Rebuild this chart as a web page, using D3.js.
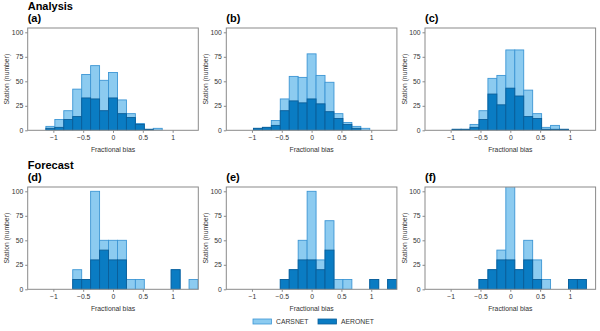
<!DOCTYPE html>
<html>
<head>
<meta charset="utf-8">
<script src="https://cdn.jsdelivr.net/npm/d3@7"></script>
<style>
  body { margin: 0; background: #fff; }
  svg { font-family: "Liberation Sans", Arial, sans-serif; }
</style>
</head>
<body>
<svg id="chart" width="600" height="331"></svg>
<script>
// bin centres (fractional bias), bin width 0.15
var binCenters = [-1.05, -0.9, -0.75, -0.6, -0.45, -0.3, -0.15, 0, 0.15, 0.3, 0.45, 0.6, 0.75, 0.9, 1.05, 1.2, 1.35];
var binWidth = 0.15;

var panelLabels = ["(a)", "(b)", "(c)", "(d)", "(e)", "(f)"];
var rowTitles = ["Analysis", "Forecast"];
var xTicks = [-1, -0.5, 0, 0.5, 1];
var yTicks = [0, 25, 50, 75, 100];
var seriesNames = ["CARSNET", "AERONET"];

var carsnetA = [4, 11, 20, 42, 57, 66, 51, 59, 31, 17, 7, 1, 2, 0, 0, 0, 0];
var aeronetA = [2, 3, 11, 14, 33, 32, 20, 33, 17, 13, 6, 1, 0, 0, 0, 0, 0];
var carsnetB = [0, 2, 3, 10, 32, 55, 54, 78, 56, 49, 17, 8, 4, 2, 0, 0, 0];
var aeronetB = [0, 2, 3, 5, 20, 30, 28, 32, 27, 19, 12, 6, 2, 0, 0, 0, 0];
var carsnetC = [0, 1, 1, 6, 20, 53, 56, 82, 82, 41, 17, 3, 5, 1, 0, 0, 0];
var aeronetC = [0, 1, 1, 3, 11, 37, 26, 43, 35, 14, 12, 1, 1, 1, 0, 0, 0];
var carsnetD = [0, 0, 0, 20, 10, 100, 50, 50, 50, 10, 10, 0, 0, 0, 20, 0, 10];
var aeronetD = [0, 0, 0, 10, 10, 30, 40, 30, 30, 0, 0, 0, 0, 0, 20, 0, 0];
var carsnetE = [0, 0, 0, 0, 10, 20, 50, 100, 30, 70, 10, 10, 0, 0, 10, 0, 10];
var aeronetE = [0, 0, 0, 0, 10, 20, 30, 30, 20, 40, 0, 0, 0, 0, 10, 0, 10];
var carsnetF = [0, 0, 0, 0, 10, 20, 40, 110, 20, 50, 30, 10, 0, 0, 10, 10, 0];
var aeronetF = [0, 0, 0, 0, 10, 20, 30, 30, 20, 30, 10, 0, 0, 0, 10, 10, 0];

var carsnet = [carsnetA, carsnetB, carsnetC, carsnetD, carsnetE, carsnetF];
var aeronet = [aeronetA, aeronetB, aeronetC, aeronetD, aeronetE, aeronetF];

var lightFill = "#8ccbf0", lightStroke = "#3d96d4";
var darkFill = "#0a7cc3", darkStroke = "#0a5e99";
var frameColor = "#8a8a8a", textColor = "#333";

var svg = d3.select("#chart");

var panelW = 170.6, panelH = 102.3;
var lefts = [27.7, 226.3, 425];
var tops = [28, 187];

for (var p = 0; p < 6; p++) {
    var col = p % 3, row = Math.floor(p / 3);
    var x0 = lefts[col], y0 = tops[row];

    var x = d3.scaleLinear().domain([-1.43, 1.43]).range([0, panelW]);
    var y = d3.scaleLinear().domain([0, 104.4]).range([panelH, 0]);

    var g = svg.append("g").attr("transform", "translate(" + x0 + "," + y0 + ")");

    g.append("clipPath").attr("id", "clip" + p)
        .append("rect").attr("width", panelW).attr("height", panelH);

    var bars = g.append("g").attr("clip-path", "url(#clip" + p + ")");

    var data = binCenters.map(function(c, i) {
        return { c: c, light: carsnet[p][i], dark: aeronet[p][i] };
    });

    bars.selectAll("rect.light")
        .data(data.filter(function(d) { return d.light > 0; }))
        .enter().append("rect")
        .attr("class", "light")
        .attr("x", function(d) { return x(d.c - binWidth / 2); })
        .attr("width", function(d) { return x(d.c + binWidth / 2) - x(d.c - binWidth / 2); })
        .attr("y", function(d) { return y(d.light); })
        .attr("height", function(d) { return y(0) - y(d.light); })
        .style("fill", lightFill)
        .style("stroke", lightStroke)
        .style("stroke-width", 0.9);

    bars.selectAll("rect.dark")
        .data(data.filter(function(d) { return d.dark > 0; }))
        .enter().append("rect")
        .attr("class", "dark")
        .attr("x", function(d) { return x(d.c - binWidth / 2); })
        .attr("width", function(d) { return x(d.c + binWidth / 2) - x(d.c - binWidth / 2); })
        .attr("y", function(d) { return y(d.dark); })
        .attr("height", function(d) { return y(0) - y(d.dark); })
        .style("fill", darkFill)
        .style("stroke", darkStroke)
        .style("stroke-width", 0.9);

    // frame
    g.append("rect")
        .attr("width", panelW).attr("height", panelH)
        .style("fill", "none").style("stroke", frameColor).style("stroke-width", 1);

    var xAxis = g.append("g").attr("transform", "translate(0," + panelH + ")")
        .call(d3.axisBottom(x).tickValues(xTicks).tickSize(2.5).tickPadding(2)
            .tickFormat(function(d) { return d === 0 ? "0" : String(d).replace("-", "\u2212"); }));
    var yAxis = g.append("g")
        .call(d3.axisLeft(y).tickValues(yTicks).tickSize(2.5).tickPadding(2));

    [xAxis, yAxis].forEach(function(a) {
        a.select(".domain").remove();
        a.selectAll("line").style("stroke", frameColor);
        a.selectAll("text").style("font-size", "6.8px").style("fill", textColor)
            .style("font-family", "'Liberation Sans', Arial, sans-serif");
    });

    g.append("text")
        .attr("x", panelW / 2).attr("y", panelH + 22)
        .attr("text-anchor", "middle")
        .style("font-size", "6.8px").style("fill", textColor)
        .text("Fractional bias");

    g.append("text")
        .attr("transform", "translate(-18.5," + (panelH / 2) + ") rotate(-90)")
        .attr("text-anchor", "middle")
        .style("font-size", "6.8px").style("fill", textColor)
        .text("Station (number)");

    g.append("text")
        .attr("x", 0).attr("y", -6)
        .style("font-size", "11px").style("font-weight", "bold")
        .style("fill", "#000")
        .text(panelLabels[p]);

    if (col === 0) {
        g.append("text")
            .attr("x", 0).attr("y", -18)
            .style("font-size", "11px").style("font-weight", "bold")
            .style("fill", "#000")
            .text(rowTitles[row]);
    }
}

// legend
var legend = svg.append("g").attr("transform", "translate(253,319)");
var legendX = [0, 65];
seriesNames.forEach(function(name, i) {
    legend.append("rect")
        .attr("x", legendX[i]).attr("y", 0)
        .attr("width", 18.5).attr("height", 5)
        .style("fill", i === 0 ? lightFill : darkFill)
        .style("stroke", i === 0 ? lightStroke : darkStroke)
        .style("stroke-width", 0.8);
    legend.append("text")
        .attr("x", legendX[i] + 23).attr("y", 5)
        .style("font-size", "6.8px").style("fill", textColor)
        .text(name);
});
</script>
</body>
</html>
